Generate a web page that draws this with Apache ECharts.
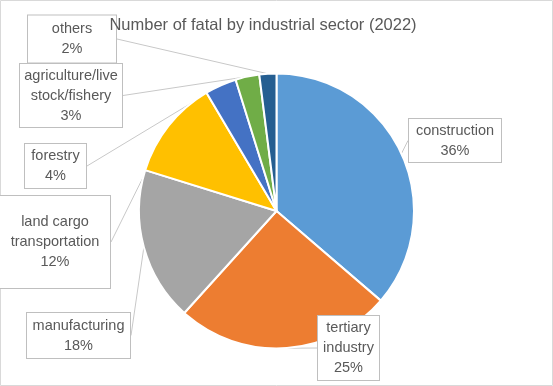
<!DOCTYPE html>
<html>
<head>
<meta charset="utf-8">
<script src="https://cdn.jsdelivr.net/npm/echarts@6/dist/echarts.min.js"></script>
<style>
html,body{margin:0;padding:0;background:#fff;}
#c{width:553px;height:386px;}
</style>
</head>
<body>
<div id="c"></div>
<script>
// ---- data ----
var categories = ['construction', 'tertiary industry', 'manufacturing', 'land cargo transportation', 'forestry', 'agriculture/livestock/fishery', 'others'];
var labelNames = ['construction', 'tertiary\nindustry', 'manufacturing', 'land cargo\ntransportation', 'forestry', 'agriculture/live\nstock/fishery', 'others'];
var shares = [36.3, 25.4, 18.1, 11.7, 3.7, 2.8, 2.0];
var titleText = 'Number of fatal by industrial sector (2022)';

// ---- style / layout ----
var colors = ['#5B9BD5', '#ED7D31', '#A5A5A5', '#FFC000', '#4472C4', '#70AD47', '#255E91'];
// label box centres and sizes [cx, cy, w, padV]
var boxes = [
  [455, 140.5, 92, 1.5],
  [348.5, 348, 61, 2],
  [78.5, 335.5, 103, 2.5],
  [55, 242, 110, 16],
  [55.5, 166, 61, 2],
  [71, 95.5, 102, 1.5],
  [72, 39, 88, 3.5]
];

var data = categories.map(function (c, i) {
  return {
    name: c,
    value: shares[i],
    itemStyle: { color: colors[i] },
    label: { width: boxes[i][2], padding: [boxes[i][3], 0] }
  };
});

var chart = echarts.init(document.getElementById('c'));
chart.setOption({
  animation: false,
  graphic: [{
    type: 'rect', z: -10, silent: true,
    shape: { x: 0.5, y: 0.5, width: 552, height: 385 },
    style: { fill: 'none', stroke: '#d9d9d9', lineWidth: 1 }
  }],
  title: {
    text: titleText,
    left: 263, top: 16, textAlign: 'center', padding: 0,
    textStyle: { fontFamily: 'Liberation Sans', fontSize: 16.5, fontWeight: 'normal', color: '#595959', lineHeight: 18 }
  },
  series: [{
    type: 'pie',
    center: [276.5, 211],
    radius: 137.5,
    startAngle: 90,
    clockwise: true,
    data: data,
    itemStyle: { borderColor: '#ffffff', borderWidth: 2 },
    label: {
      show: true,
      formatter: function (p) { return labelNames[p.dataIndex] + '\n' + Math.round(p.percent) + '%'; },
      fontFamily: 'Liberation Sans',
      fontSize: 14.5,
      lineHeight: 20,
      color: '#595959',
      align: 'center',
      overflow: 'none',
      backgroundColor: '#ffffff',
      borderColor: '#bfbfbf',
      borderWidth: 1
    },
    labelLine: {
      show: true, length: 10, length2: 0,
      lineStyle: { color: '#c8c8c8', width: 1 }
    },
    labelLayout: function (params) {
      var b = boxes[params.dataIndex];
      return { x: b[0], y: b[1], align: 'center', verticalAlign: 'middle' };
    }
  }]
});
</script>
</body>
</html>
